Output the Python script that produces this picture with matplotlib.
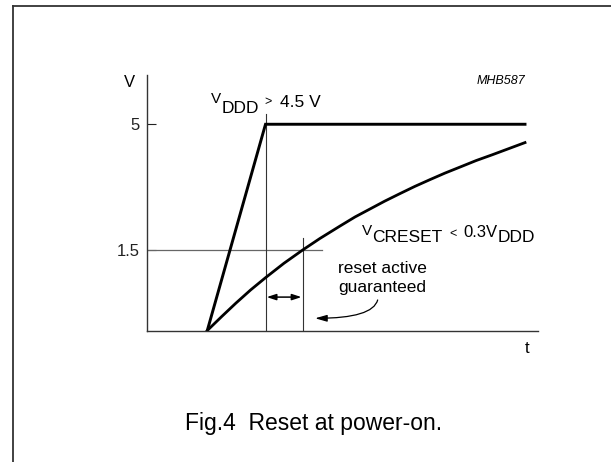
import matplotlib
matplotlib.use("Agg")
import matplotlib.pyplot as plt
from matplotlib.lines import Line2D
from matplotlib.patches import FancyArrowPatch

plt.rcParams['font.family'] = ['Liberation Sans', 'DejaVu Sans']

# ------------------- DATA -------------------
V_FLOOR = -0.74          # level of the t axis (schematic, not to scale)
V_TOP = 6.37
T_MAX = 10.0

ytick_vals = [5.0, 1.5]
ytick_labels = ["5", "1.5"]

# supply ramp V_DDD
vddd_t = [1.53, 3.02, 9.66]
vddd_v = [V_FLOOR, 5.0, 5.0]

# C_RESET charge curve (read point by point)
creset_t = [1.53, 1.90, 2.26, 2.64, 3.02, 3.49, 3.97, 4.41, 4.93, 5.31, 5.69, 6.07, 6.46,
            6.84, 7.23, 7.61, 8.00, 8.41, 8.82, 9.24, 9.66]
creset_v = [V_FLOOR, -0.35, 0.02, 0.39, 0.73, 1.13, 1.50, 1.82, 2.17, 2.42, 2.64, 2.86, 3.07,
            3.27, 3.46, 3.64, 3.81, 3.99, 4.15, 4.32, 4.49]

# marker lines
t_vddd_ok = 3.02         # V_DDD reaches 5 V
t_reset_end = 3.97       # C_RESET crosses 1.5 V
v_threshold = 1.5
t_threshold_end = 4.47
v_vddd_line_top = 5.29
v_reset_line_top = 1.83
v_span_arrow = 0.19
# --------------------------------------------

fig = plt.figure(figsize=(6.11, 4.62), dpi=100)
ax = fig.add_axes([0.2414, 0.2846, 0.6396, 0.5530])
ax.set_xlim(0, T_MAX)
ax.set_ylim(V_FLOOR, V_TOP)

for side in ("top", "right"):
    ax.spines[side].set_visible(False)
for side in ("left", "bottom"):
    ax.spines[side].set_linewidth(1.0)
    ax.spines[side].set_color("#333333")

ax.set_xticks([])
ax.set_yticks(ytick_vals)
ax.set_yticklabels(ytick_labels, fontsize=12)
ax.tick_params(axis="y", direction="in", length=6.5, width=0.8, pad=5.5, colors="#222222")

# thin guide lines
ax.plot([0, t_threshold_end], [v_threshold, v_threshold], color="#666666", lw=0.9)
ax.plot([t_vddd_ok, t_vddd_ok], [V_FLOOR, v_vddd_line_top], color="#333333", lw=0.8)
ax.plot([t_reset_end, t_reset_end], [V_FLOOR, v_reset_line_top], color="#333333", lw=0.8)

# curves
ax.plot(vddd_t, vddd_v, color="black", lw=2.1, solid_joinstyle="miter")
ax.plot(creset_t, creset_v, color="black", lw=2.0, solid_joinstyle="round")

# double arrow: reset active window
span = FancyArrowPatch((t_vddd_ok + 0.03, v_span_arrow), (t_reset_end - 0.03, v_span_arrow),
                       arrowstyle="<|-|>,head_length=0.55,head_width=0.18",
                       mutation_scale=10, lw=1.1, color="black", shrinkA=0, shrinkB=0)
ax.add_patch(span)

# curved pointer from text
pointer = FancyArrowPatch((5.89, 0.11), (4.29, -0.40),
                          connectionstyle="angle3,angleA=75,angleB=0",
                          arrowstyle="-|>,head_length=0.7,head_width=0.2",
                          mutation_scale=10, lw=0.9, color="black", shrinkA=0, shrinkB=0)
ax.add_patch(pointer)

# labels
ax.text(-0.47, 6.03, "V", fontsize=12, ha="center", va="baseline")
ax.text(9.72, -1.36, "t", fontsize=12, ha="center", va="baseline", clip_on=False)
ax.text(9.66, 6.12, "MHB587", fontsize=9, style="italic", ha="right", va="baseline")

ax.text(1.625, 5.585, "V", fontsize=11, ha="left", va="baseline")
ax.text(1.897, 5.323, "DDD", fontsize=12.5, ha="left", va="baseline")
ax.text(2.99, 5.54, ">", fontsize=9, ha="left", va="baseline")
ax.text(3.39, 5.49, "4.5 V", fontsize=12.5, ha="left", va="baseline")

ax.text(5.48, 1.918, "V", fontsize=11, ha="left", va="baseline")
ax.text(5.737, 1.731, "CRESET", fontsize=12.5, ha="left", va="baseline")
ax.text(7.715, 1.87, "<", fontsize=9, ha="left", va="baseline")
ax.text(8.073, 1.87, "0.3V", fontsize=12, ha="left", va="baseline")
ax.text(8.969, 1.731, "DDD", fontsize=12.5, ha="left", va="baseline")

ax.text(6.01, 0.851, "reset active", fontsize=12.5, ha="center", va="baseline")
ax.text(6.01, 0.339, "guaranteed", fontsize=12.5, ha="center", va="baseline")

# page frame and caption
fig.add_artist(Line2D([12.7 / 611, 12.7 / 611], [0, 1 - 6 / 462], color="#333333", lw=1.3))
fig.add_artist(Line2D([12.7 / 611, 1], [1 - 6 / 462, 1 - 6 / 462], color="#333333", lw=1.3))
fig.text(313.5 / 611, 1 - 430 / 462, "Fig.4  Reset at power-on.", fontsize=16.5,
         ha="center", va="baseline")

fig.savefig("out.png", dpi=100)
